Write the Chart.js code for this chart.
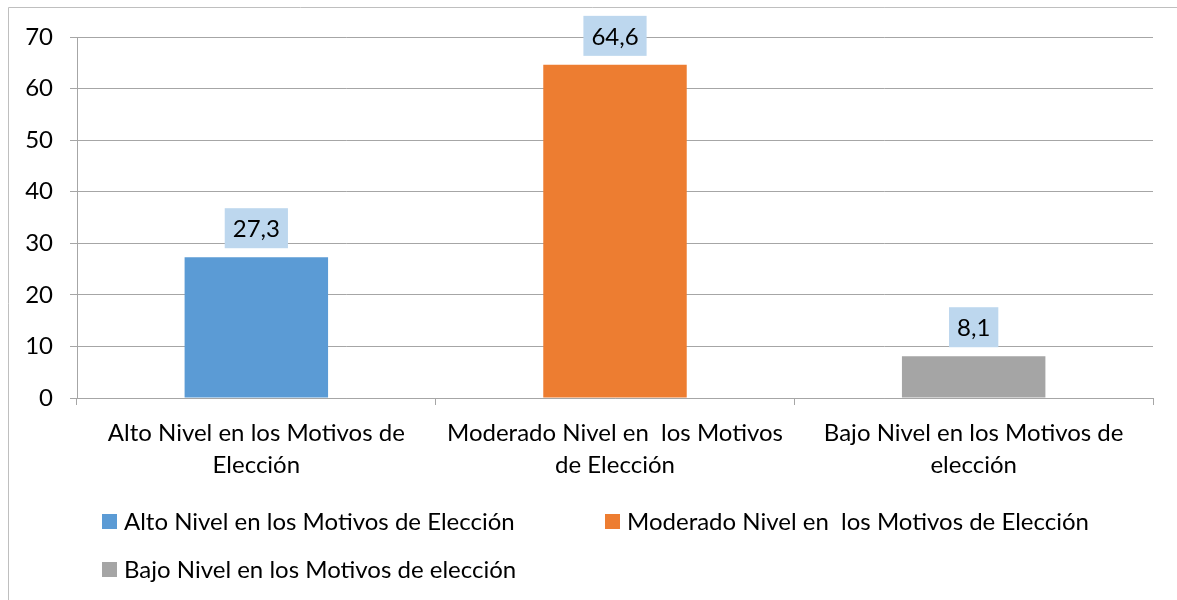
<!DOCTYPE html>
<html>
<head>
<meta charset="utf-8">
<script src="https://cdn.jsdelivr.net/npm/chart.js@4.4.1/dist/chart.umd.min.js"></script>
<style>
	body { margin: 0; background: #fff; }
	canvas { display: block; }
</style>
</head>
<body>
<canvas id="chart_motivos" width="1177" height="600"></canvas>
<script>
var categorias = [
	['Alto Nivel en los Motivos de', 'Elección'],
	['Moderado Nivel en  los Motivos', 'de Elección'],
	['Bajo Nivel en los Motivos de', 'elección']
];
var leyenda = [
	'Alto Nivel en los Motivos de Elección',
	'Moderado Nivel en  los Motivos de Elección',
	'Bajo Nivel en los Motivos de elección'
];
var porcentajes = [27.3, 64.6, 8.1];
var etiquetas = ['27,3', '64,6', '8,1'];
var colores = ['#5B9BD5', '#ED7D31', '#A5A5A5'];

var FUENTE = 'Lato, "Open Sans", sans-serif';
var TAM = 24;

// marco de la grafica (solo arriba e izquierda, el resto queda fuera)
var marco = {
	id: 'marco',
	beforeDraw: function (chart) {
		var ctx = chart.ctx;
		ctx.save();
		ctx.fillStyle = '#fff';
		ctx.fillRect(0, 0, chart.width, chart.height);
		ctx.strokeStyle = '#BFBFBF';
		ctx.lineWidth = 1;
		ctx.beginPath();
		ctx.moveTo(8.5, chart.height);
		ctx.lineTo(8.5, 7.5);
		ctx.lineTo(chart.width, 7.5);
		ctx.stroke();
		ctx.restore();
	}
};

// cajas de valor encima de cada barra
var etiquetasBarras = {
	id: 'etiquetasBarras',
	afterDatasetsDraw: function (chart) {
		var ctx = chart.ctx;
		var meta = chart.getDatasetMeta(0);
		ctx.save();
		ctx.font = TAM + 'px ' + FUENTE;
		ctx.textAlign = 'center';
		ctx.textBaseline = 'middle';
		meta.data.forEach(function (bar, i) {
			var txt = etiquetas[i];
			var w = ctx.measureText(txt).width + 16;
			var h = 40;
			var y = bar.y - 9 - h;
			ctx.fillStyle = '#BDD7EE';
			ctx.fillRect(bar.x - w / 2, y, w, h);
			ctx.fillStyle = '#000';
			ctx.fillText(txt, bar.x, y + h / 2 + 1);
		});
		ctx.restore();
	}
};

// leyenda en dos columnas alineada a la izquierda
var leyendaAbajo = {
	id: 'leyendaAbajo',
	afterDraw: function (chart) {
		var ctx = chart.ctx;
		var area = chart.chartArea;
		var cols = [area.left + 25, area.left + 528];
		var filas = [521, 569];
		ctx.save();
		ctx.font = TAM + 'px ' + FUENTE;
		ctx.textBaseline = 'middle';
		ctx.textAlign = 'left';
		leyenda.forEach(function (txt, i) {
			var x = cols[i % 2];
			var y = filas[Math.floor(i / 2)];
			ctx.fillStyle = colores[i];
			ctx.fillRect(x, y - 7, 15, 15);
			ctx.fillStyle = '#000';
			ctx.fillText(txt, x + 22, y + 1);
		});
		ctx.restore();
	}
};

new Chart('chart_motivos', {
	type: 'bar',
	data: {
		labels: categorias,
		datasets: [
			{
				data: porcentajes,
				backgroundColor: colores,
				borderWidth: 0,
				barPercentage: 0.4,
				categoryPercentage: 1
			}
		]
	},
	options: {
		responsive: false,
		animation: false,
		layout: { padding: { top: 37, right: 24, left: 0, bottom: 0 } },
		plugins: {
			legend: { display: false },
			tooltip: { enabled: false }
		},
		scales: {
			x: {
				grid: {
					offset: true,
					drawOnChartArea: false,
					drawTicks: true,
					tickLength: 7,
					color: '#A6A6A6'
				},
				border: { color: '#A6A6A6' },
				ticks: {
					color: '#000',
					font: { family: FUENTE, size: TAM, lineHeight: 1.3 },
					padding: 13,
					maxRotation: 0,
					autoSkip: false
				},
				afterFit: function (scale) { scale.height = 202; }
			},
			y: {
				min: 0,
				max: 70,
				ticks: {
					stepSize: 10,
					color: '#000',
					font: { family: FUENTE, size: TAM },
					padding: 17
				},
				grid: {
					color: '#A6A6A6',
					tickLength: 7
				},
				border: { color: '#A6A6A6' },
				afterFit: function (scale) { scale.width = 77; }
			}
		}
	},
	plugins: [marco, etiquetasBarras, leyendaAbajo]
});
</script>
</body>
</html>
